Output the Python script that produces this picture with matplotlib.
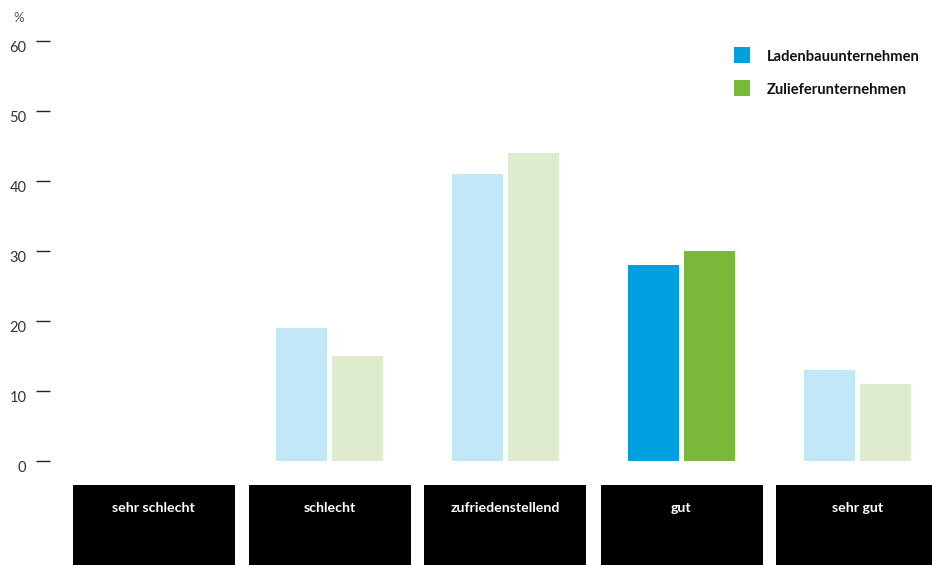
import matplotlib
matplotlib.use("Agg")
import matplotlib.pyplot as plt
import matplotlib.transforms as mtransforms
from matplotlib.patches import Rectangle
import numpy as np

categories = ["sehr schlecht", "schlecht", "zufriedenstellend", "gut", "sehr gut"]
laden = [0, 19, 41, 28, 13]
zuliefer = [0, 15, 44, 30, 11]
series_names = ["Ladenbauunternehmen", "Zulieferunternehmen"]
yticks = [0, 10, 20, 30, 40, 50, 60]
highlight = "gut"

plt.rcParams['font.family'] = ['Lato', 'DejaVu Sans']

W, H = 932, 565
fig = plt.figure(figsize=(W / 100, H / 100), dpi=100)
left_px, right_px = 50, 932
bot_px, top_px = 461, 41
ax = fig.add_axes([left_px / W, (H - bot_px) / H, (right_px - left_px) / W, (bot_px - top_px) / H])

step = 176.0
x0 = -(153.5 - left_px) / step
ax.set_xlim(x0, x0 + (right_px - left_px) / step)
ax.set_ylim(0, 60)

blue, blue_l = "#009fe0", "#c2e7f7"
green, green_l = "#7ab839", "#dfebcd"

x = np.arange(len(categories))
bw = 51 / step
off = 28 / step
for i, c in enumerate(categories):
    hl = (c == highlight)
    ax.bar(x[i] - off, laden[i], width=bw, color=blue if hl else blue_l, linewidth=0)
    ax.bar(x[i] + off, zuliefer[i], width=bw, color=green if hl else green_l, linewidth=0)

for s in ax.spines.values():
    s.set_visible(False)
ax.set_xticks([])
ax.set_yticks(yticks)
ax.tick_params(axis='y', length=10, width=1, color="#222222", pad=7,
               labelsize=10.5, labelcolor="#333333")
shift = mtransforms.ScaledTranslation(0, -5 / 100, fig.dpi_scale_trans)
for lab in ax.get_yticklabels():
    lab.set_transform(lab.get_transform() + shift)

fig.text(13 / W, 1 - 18 / H, "%", fontsize=9.5, color="#555555", va="center", ha="left")

# category label boxes
trans = mtransforms.blended_transform_factory(ax.transData, fig.transFigure)
bx_w = 162 / step
for i, c in enumerate(categories):
    r = Rectangle((x[i] - bx_w / 2, 0), bx_w, (H - 485) / H, transform=trans,
                  facecolor="black", edgecolor="none", clip_on=False)
    ax.add_artist(r)
    ax.text(x[i], 1 - 508 / H, c, transform=trans, color="white", fontsize=10.2,
            fontweight="bold", ha="center", va="center", clip_on=False)

# legend
for j, (name, col) in enumerate(zip(series_names, [blue, green])):
    ytop = 47 + j * 33
    fig.patches.append(Rectangle((734 / W, 1 - (ytop + 16) / H), 16 / W, 16 / H,
                                 transform=fig.transFigure, facecolor=col, edgecolor="none"))
    fig.text(767 / W, 1 - (ytop + 10) / H, name, fontsize=10.6, fontweight="bold",
             color="#111111", va="center", ha="left")

fig.savefig("out.png", dpi=100)
